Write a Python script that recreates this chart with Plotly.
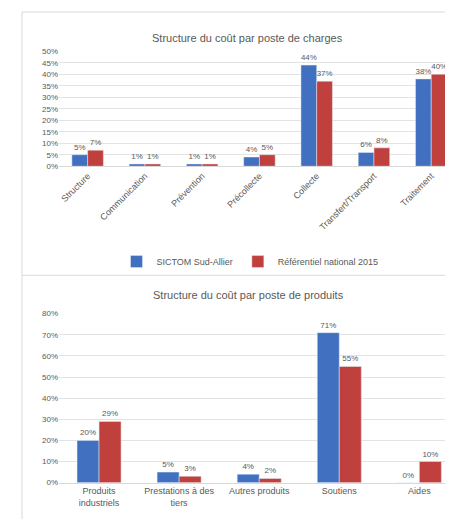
import plotly.graph_objects as go

# ---- Data ----
charges_categories = ["Structure", "Communication", "Prévention", "Précollecte",
                      "Collecte", "Transfert/Transport", "Traitement"]
charges_sictom = [0.05, 0.01, 0.01, 0.04, 0.44, 0.06, 0.38]
charges_ref = [0.07, 0.01, 0.01, 0.05, 0.37, 0.08, 0.40]

produits_categories = ["Produits<br>industriels", "Prestations à des<br>tiers", "Autres produits",
                       "Soutiens", "Aides"]
produits_sictom = [0.20, 0.05, 0.04, 0.71, 0.00]
produits_ref = [0.29, 0.03, 0.02, 0.55, 0.10]

series_names = ["SICTOM Sud-Allier", "Référentiel national 2015"]
title_charges = "Structure du coût par poste de charges"
title_produits = "Structure du coût par poste de produits"

BLUE = "#4170C0"
RED = "#C0403D"
GREY = "#595959"
FONT = "Liberation Sans, Arial, sans-serif"

# the page body has an 8px margin: size the figure to fit the window
OFF = 8
W, H = 453 - OFF, 524 - OFF

def px(p):
    return (p - OFF) / W

def py(p):
    return 1 - (p - OFF) / H

fig = go.Figure()

lbl = dict(size=8, color=GREY, family=FONT)
fig.add_trace(go.Bar(x=charges_categories, y=charges_sictom, name=series_names[0],
                     marker_color=BLUE, xaxis="x", yaxis="y",
                     texttemplate="%{y:.0%}", textposition="outside", textfont=lbl,
                     cliponaxis=False))
fig.add_trace(go.Bar(x=charges_categories, y=charges_ref, name=series_names[1],
                     marker_color=RED, xaxis="x", yaxis="y",
                     texttemplate="%{y:.0%}", textposition="outside", textfont=lbl,
                     cliponaxis=False))
fig.add_trace(go.Bar(x=produits_categories, y=produits_sictom, name=series_names[0],
                     marker_color=BLUE, xaxis="x2", yaxis="y2", showlegend=False,
                     texttemplate="%{y:.0%}", textposition="outside", textfont=lbl,
                     cliponaxis=False))
fig.add_trace(go.Bar(x=produits_categories, y=produits_ref, name=series_names[1],
                     marker_color=RED, xaxis="x2", yaxis="y2", showlegend=False,
                     texttemplate="%{y:.0%}", textposition="outside", textfont=lbl,
                     cliponaxis=False))

tickfont = dict(size=8, color=GREY, family=FONT)
x_left = px(59)

fig.update_layout(
    width=W, height=H,
    margin=dict(l=0, r=0, t=0, b=0),
    paper_bgcolor="white", plot_bgcolor="white",
    barmode="group", bargap=0.45, bargroupgap=0,
    font=dict(family=FONT, color=GREY),
    xaxis=dict(domain=[x_left, 1], anchor="y", range=[-0.5, 6.38], tickangle=-45,
               tickfont=dict(size=9, color=GREY, family=FONT), showgrid=False,
               showline=True, linecolor="#d9d9d9", ticks=""),
    yaxis=dict(domain=[py(165), py(48)], anchor="x", range=[0, 0.5], dtick=0.05,
               tickformat=".0%", tickfont=tickfont, gridcolor="#e3e3e3",
               zeroline=False, showline=False),
    xaxis2=dict(domain=[x_left, 1], anchor="y2", range=[-0.5, 4.42], tickangle=0,
                tickfont=dict(size=9, color=GREY, family=FONT), showgrid=False,
                showline=True, linecolor="#d9d9d9", ticks=""),
    yaxis2=dict(domain=[py(487), py(315)], anchor="x2", range=[0, 0.8], dtick=0.1,
                tickformat=".0%", tickfont=tickfont, gridcolor="#e3e3e3",
                zeroline=False, showline=False),
    legend=dict(orientation="h", x=px(250), xanchor="center", y=py(262), yanchor="middle",
                font=dict(size=9, color=GREY, family=FONT), itemwidth=30,
                bgcolor="rgba(0,0,0,0)"),
    annotations=[
        dict(text=title_charges, x=px(247), y=py(26), xref="paper", yref="paper",
             showarrow=False, font=dict(size=11, color=GREY, family=FONT)),
        dict(text=title_produits, x=px(248), y=py(296), xref="paper", yref="paper",
             showarrow=False, font=dict(size=11, color=GREY, family=FONT)),
    ],
    shapes=[
        dict(type="rect", xref="paper", yref="paper", x0=px(22), x1=1.05,
             y0=py(276), y1=1.0, line=dict(color="#d9d9d9", width=1)),
        dict(type="line", xref="paper", yref="paper", x0=px(22), x1=px(22),
             y0=0, y1=py(276), line=dict(color="#d9d9d9", width=1)),
    ],
)

fig.write_html("out.html")
